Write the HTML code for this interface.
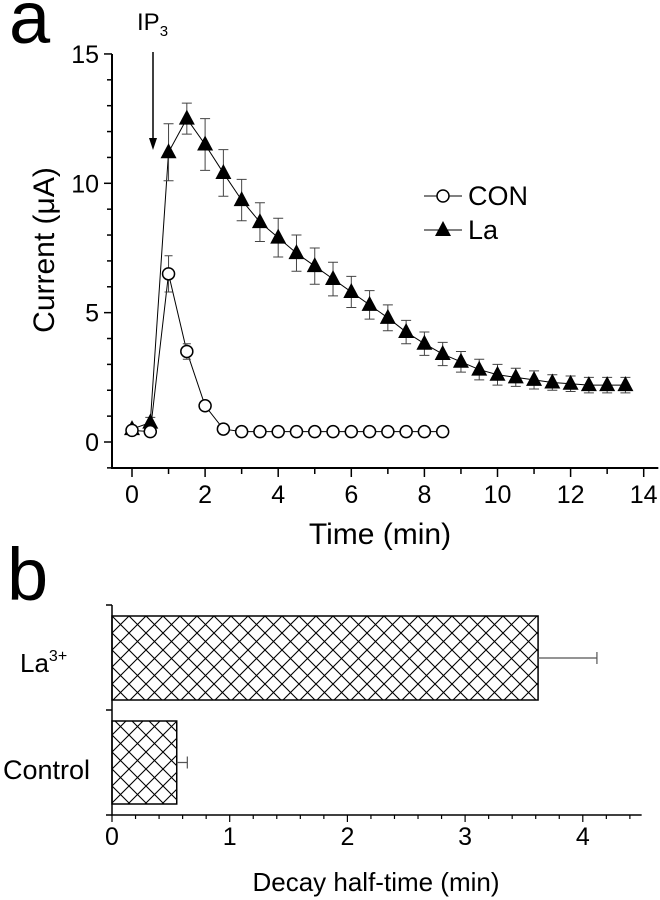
<!DOCTYPE html>
<html><head><meta charset="utf-8"><style>
body{margin:0;background:#fff}
svg{display:block;font-family:"Liberation Sans",Arial,sans-serif}
</style></head><body>
<svg id="c" width="660" height="900" viewBox="0 0 660 900">
<defs>
<pattern id="hatch" width="17" height="17" patternUnits="userSpaceOnUse" x="112" y="616">
<path d="M0,0L17,17M17,0L0,17" stroke="#000" stroke-width="1.1"/>
</pattern>
</defs>
<text x="9" y="43" font-size="74">a</text>
<text x="7" y="600" font-size="74">b</text>
<g id="a"></g>
<g id="b"></g>
</svg>
<script>
const timesLa=[0,0.5,1,1.5,2,2.5,3,3.5,4,4.5,5,5.5,6,6.5,7,7.5,8,8.5,9,9.5,10,10.5,11,11.5,12,12.5,13,13.5];
const valsLa=[0.5,0.75,11.2,12.5,11.5,10.4,9.35,8.5,7.9,7.3,6.8,6.3,5.8,5.3,4.8,4.25,3.8,3.4,3.1,2.8,2.6,2.5,2.4,2.3,2.25,2.2,2.2,2.2];
const errLa=[0.1,0.2,1.1,0.6,1.0,0.9,0.8,0.75,0.75,0.7,0.7,0.65,0.6,0.55,0.5,0.45,0.45,0.45,0.4,0.4,0.4,0.35,0.35,0.3,0.3,0.3,0.3,0.3];
const timesCon=[0,0.5,1,1.5,2,2.5,3,3.5,4,4.5,5,5.5,6,6.5,7,7.5,8,8.5];
const valsCon=[0.45,0.4,6.5,3.5,1.4,0.5,0.4,0.4,0.4,0.4,0.4,0.4,0.4,0.4,0.4,0.4,0.4,0.4];
const errCon=[0.05,0.05,0.7,0.3,0.1,0.2,0.2,0.2,0.2,0.2,0.2,0.2,0.2,0.2,0.2,0.2,0.2,0.2];
const xTicksA=[0,2,4,6,8,10,12,14];
const yTicksA=[0,5,10,15];
const barCats=["La3+","Control"];
const barVals=[3.62,0.55];
const barErr=[0.5,0.09];
const xTicksB=[0,1,2,3,4];

const NS="http://www.w3.org/2000/svg";
function mk(parent,tag,attrs){const e=document.createElementNS(NS,tag);for(const k in attrs)e.setAttribute(k,attrs[k]);parent.appendChild(e);return e;}
const A=document.getElementById('a'),B=document.getElementById('b');
const xa=t=>132+t*36.55, ya=v=>442-v*25.87;
let ax=mk(A,'path',{d:`M112,54V468H${xa(14.4)}`,stroke:'#000','stroke-width':2,fill:'none'});


for(let v=-1;v<=15;v++){const maj=v%5===0;mk(A,'line',{x1:maj?104:107,x2:112,y1:ya(v),y2:ya(v),stroke:'#000','stroke-width':1.5});}
yTicksA.forEach(v=>{const t=mk(A,'text',{x:99,y:ya(v)+9,'font-size':25,'text-anchor':'end'});t.textContent=v;

});
for(let t=0;t<=14;t++){const maj=t%2===0;mk(A,'line',{x1:xa(t),x2:xa(t),y1:468,y2:maj?477:474,stroke:'#000','stroke-width':1.5});}
xTicksA.forEach(v=>{const t=mk(A,'text',{x:xa(v),y:503,'font-size':25,'text-anchor':'middle'});t.textContent=v;

});
let yt=mk(A,'text',{x:0,y:0,'font-size':30,'text-anchor':'middle',transform:'translate(54,250) rotate(-90)'});yt.textContent='Current (μA)';


let xt=mk(A,'text',{x:380,y:544,'font-size':30,'text-anchor':'middle'});xt.textContent='Time (min)';


let ip=mk(A,'text',{x:137,y:30,'font-size':24});ip.innerHTML='IP<tspan font-size="15" dy="6">3</tspan>';


mk(A,'line',{x1:153,x2:153,y1:52,y2:140,stroke:'#000','stroke-width':1.5});
mk(A,'path',{d:'M149,138L153,150L157,138Z',fill:'#000'});
let pts=timesLa.map((t,i)=>xa(t)+','+ya(valsLa[i])).join(' ');
let l1=mk(A,'polyline',{points:pts,fill:'none',stroke:'#000','stroke-width':1});


timesLa.forEach((t,i)=>{const x=xa(t),y1=ya(valsLa[i]+errLa[i]),y2=ya(valsLa[i]-errLa[i]);
mk(A,'path',{d:`M${x},${y1}V${y2}M${x-5},${y1}H${x+5}M${x-5},${y2}H${x+5}`,stroke:'#444','stroke-width':1});});
timesLa.forEach((t,i)=>{const x=xa(t),y=ya(valsLa[i]);const p=mk(A,'path',{d:`M${x},${y-9}L${x+8},${y+6}L${x-8},${y+6}Z`,fill:'#000'});

});
pts=timesCon.map((t,i)=>xa(t)+','+ya(valsCon[i])).join(' ');
let l2=mk(A,'polyline',{points:pts,fill:'none',stroke:'#000','stroke-width':1});


timesCon.forEach((t,i)=>{const x=xa(t),y1=ya(valsCon[i]+errCon[i]),y2=ya(valsCon[i]-errCon[i]);
mk(A,'path',{d:`M${x},${y1}V${y2}M${x-4},${y1}H${x+4}M${x-4},${y2}H${x+4}`,stroke:'#444','stroke-width':1});});
timesCon.forEach((t,i)=>{const p=mk(A,'circle',{cx:xa(t),cy:ya(valsCon[i]),r:6,fill:'#fff',stroke:'#000','stroke-width':1.5});

});
let lg=mk(A,'g',{});


mk(lg,'line',{x1:424,x2:462,y1:196,y2:196,stroke:'#000'});
mk(lg,'circle',{cx:443,cy:196,r:6,fill:'#fff',stroke:'#000','stroke-width':1.5});
let tt=mk(lg,'text',{x:468,y:205,'font-size':27});tt.textContent='CON';
mk(lg,'line',{x1:424,x2:462,y1:230,y2:230,stroke:'#000'});
mk(lg,'path',{d:'M443,221L451,236L435,236Z',fill:'#000'});
tt=mk(lg,'text',{x:468,y:239,'font-size':27});tt.textContent='La';
const xb=v=>112+v*117.7;
const bandY=[616,721],bandH=[84,83];
barVals.forEach((v,i)=>{const r=mk(B,'rect',{x:112,y:bandY[i],width:xb(v)-112,height:bandH[i],fill:'url(#hatch)',stroke:'#000','stroke-width':1.5});


const yc=bandY[i]+bandH[i]/2,xe=xb(v+barErr[i]);
mk(B,'path',{d:`M${xb(v)},${yc}H${xe}M${xe},${yc-6}V${yc+6}`,stroke:'#555','stroke-width':1.2});});
mk(B,'path',{d:`M112,605V815H${xb(4.5)}`,stroke:'#000','stroke-width':1.5,fill:'none'});
[605,710,815].forEach(y=>mk(B,'line',{x1:106,x2:112,y1:y,y2:y,stroke:'#000','stroke-width':1.5}));
for(let k=0;k<=22;k++){const v=k*0.2,maj=k%5===0;mk(B,'line',{x1:xb(v),x2:xb(v),y1:815,y2:maj?822:819,stroke:'#000','stroke-width':1.2});}
xTicksB.forEach(v=>{const t=mk(B,'text',{x:xb(v),y:845,'font-size':25,'text-anchor':'middle'});t.textContent=v;

});
let c1=mk(B,'text',{x:20,y:672,'font-size':26});c1.innerHTML='La<tspan font-size="16" dy="-11">3+</tspan>';


let c2=mk(B,'text',{x:3,y:779,'font-size':27});c2.textContent='Control';


let bt=mk(B,'text',{x:376,y:891,'font-size':26,'text-anchor':'middle'});bt.textContent='Decay half-time (min)';


</script>
</body></html>
